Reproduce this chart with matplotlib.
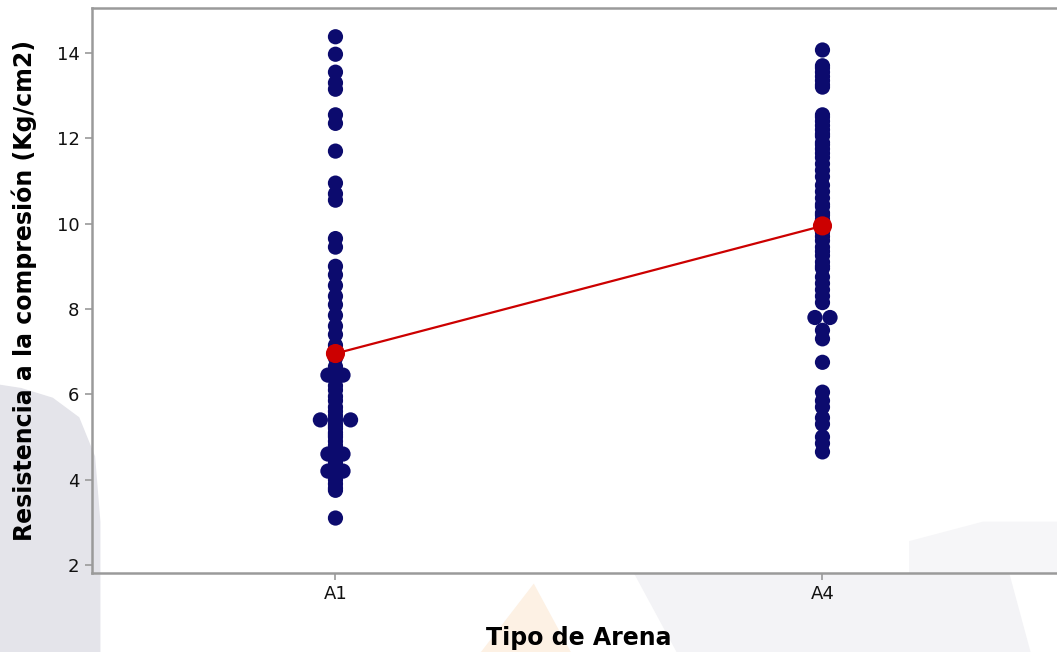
import numpy as np
import matplotlib
matplotlib.use("Agg")
import matplotlib.pyplot as plt
from matplotlib.patches import Polygon

# Compressive strength (Kg/cm2) measured for each sand type
categories = ["A1", "A4"]

strength_a1 = [
    14.38, 13.97, 13.55, 13.3, 13.15, 12.55, 12.35, 11.7, 10.95, 10.7,
    10.55, 9.65, 9.45, 9.0, 8.8, 8.55, 8.3, 8.1, 7.85, 7.6,
    7.4, 7.15, 6.85, 6.65, 6.45, 6.45, 6.35, 6.2, 6.1, 5.95,
    5.85, 5.7, 5.6, 5.5, 5.4, 5.4, 5.4, 5.3, 5.25, 5.2,
    5.1, 5.05, 5.0, 4.9, 4.8, 4.75, 4.7, 4.6, 4.6, 4.55,
    4.5, 4.4, 4.35, 4.3, 4.2, 4.2, 4.1, 4.0, 3.9, 3.8,
    3.75, 3.1,
]

strength_a4 = [
    14.07, 13.7, 13.65, 13.55, 13.45, 13.35, 13.25, 13.2, 12.55, 12.5,
    12.4, 12.3, 12.2, 12.1, 12.05, 11.9, 11.85, 11.75, 11.65, 11.55,
    11.4, 11.25, 11.1, 10.9, 10.75, 10.6, 10.45, 10.4, 10.25, 10.2,
    10.1, 10.0, 9.95, 9.8, 9.7, 9.6, 9.45, 9.35, 9.25, 9.1,
    9.0, 8.95, 8.75, 8.6, 8.45, 8.3, 8.15, 7.8, 7.8, 7.5,
    7.3, 6.75, 6.05, 5.85, 5.7, 5.45, 5.3, 5.0, 4.85, 4.65,
]

groups = [strength_a1, strength_a4]
y_ticks = [2, 4, 6, 8, 10, 12, 14]

point_color = "#0c0b6e"
mean_color = "#cc0000"
spine_color = "#9a9a9a"
tie_step = 0.031  # horizontal spacing between tied observations

fig = plt.figure(figsize=(10.57, 6.52), dpi=100)
fig.patch.set_facecolor("white")

# faint background shapes printed behind the chart
bg = [
    ([(0, 0.41), (0.02, 0.405), (0.05, 0.39), (0.075, 0.36), (0.09, 0.30),
      (0.095, 0.2), (0.095, 0.0), (0, 0.0)], "#e4e4ea"),
    ([(0.455, 0.0), (0.505, 0.105), (0.54, 0.0)], "#fdf1e4"),
    ([(0.60, 0.12), (0.955, 0.12), (0.975, 0.0), (0.64, 0.0)], "#f3f3f6"),
    ([(0.86, 0.12), (0.86, 0.17), (0.93, 0.2), (1.0, 0.2), (1.0, 0.12)], "#f6f6f8"),
]
for pts, col in bg:
    fig.patches.append(Polygon(pts, closed=True, transform=fig.transFigure,
                               facecolor=col, edgecolor="none", zorder=-5))

ax = fig.add_axes([0.087, 0.1212, 0.9215, 0.8666])
ax.set_facecolor("none")

for i, vals in enumerate(groups):
    vals = np.asarray(vals, dtype=float)
    keys = np.round(vals, 2)
    xs = np.full(len(vals), float(i + 1))
    for k in np.unique(keys):
        idx = np.where(keys == k)[0]
        n = len(idx)
        xs[idx] += (np.arange(n) - (n - 1) / 2) * tie_step
    ax.scatter(xs, vals, s=120, color=point_color, edgecolors="none", zorder=3)

means = [np.mean(g) for g in groups]
xpos = np.arange(1, len(categories) + 1)
ax.plot(xpos, means, color=mean_color, lw=1.6, zorder=4)
ax.scatter(xpos, means, s=190, color=mean_color, edgecolors="none", zorder=5)

ax.set_xlim(0.5, 2.5)
ax.set_ylim(1.8125, 15.055)
ax.set_xticks(xpos)
ax.set_xticklabels(categories)
ax.set_yticks(y_ticks)

for side in ["left", "bottom", "top"]:
    ax.spines[side].set_color(spine_color)
    ax.spines[side].set_linewidth(1.8)
ax.spines["right"].set_visible(False)

ax.tick_params(axis="both", colors=spine_color, labelcolor="#111111",
               labelsize=13, length=5, width=1.2, pad=4)

ax.set_xlabel("Tipo de Arena", fontsize=17, fontweight="bold", labelpad=16)
ax.set_ylabel("Resistencia a la compresión (Kg/cm2)", fontsize=17,
              fontweight="bold", labelpad=14)

fig.savefig("out.png", dpi=100, facecolor=fig.get_facecolor())
